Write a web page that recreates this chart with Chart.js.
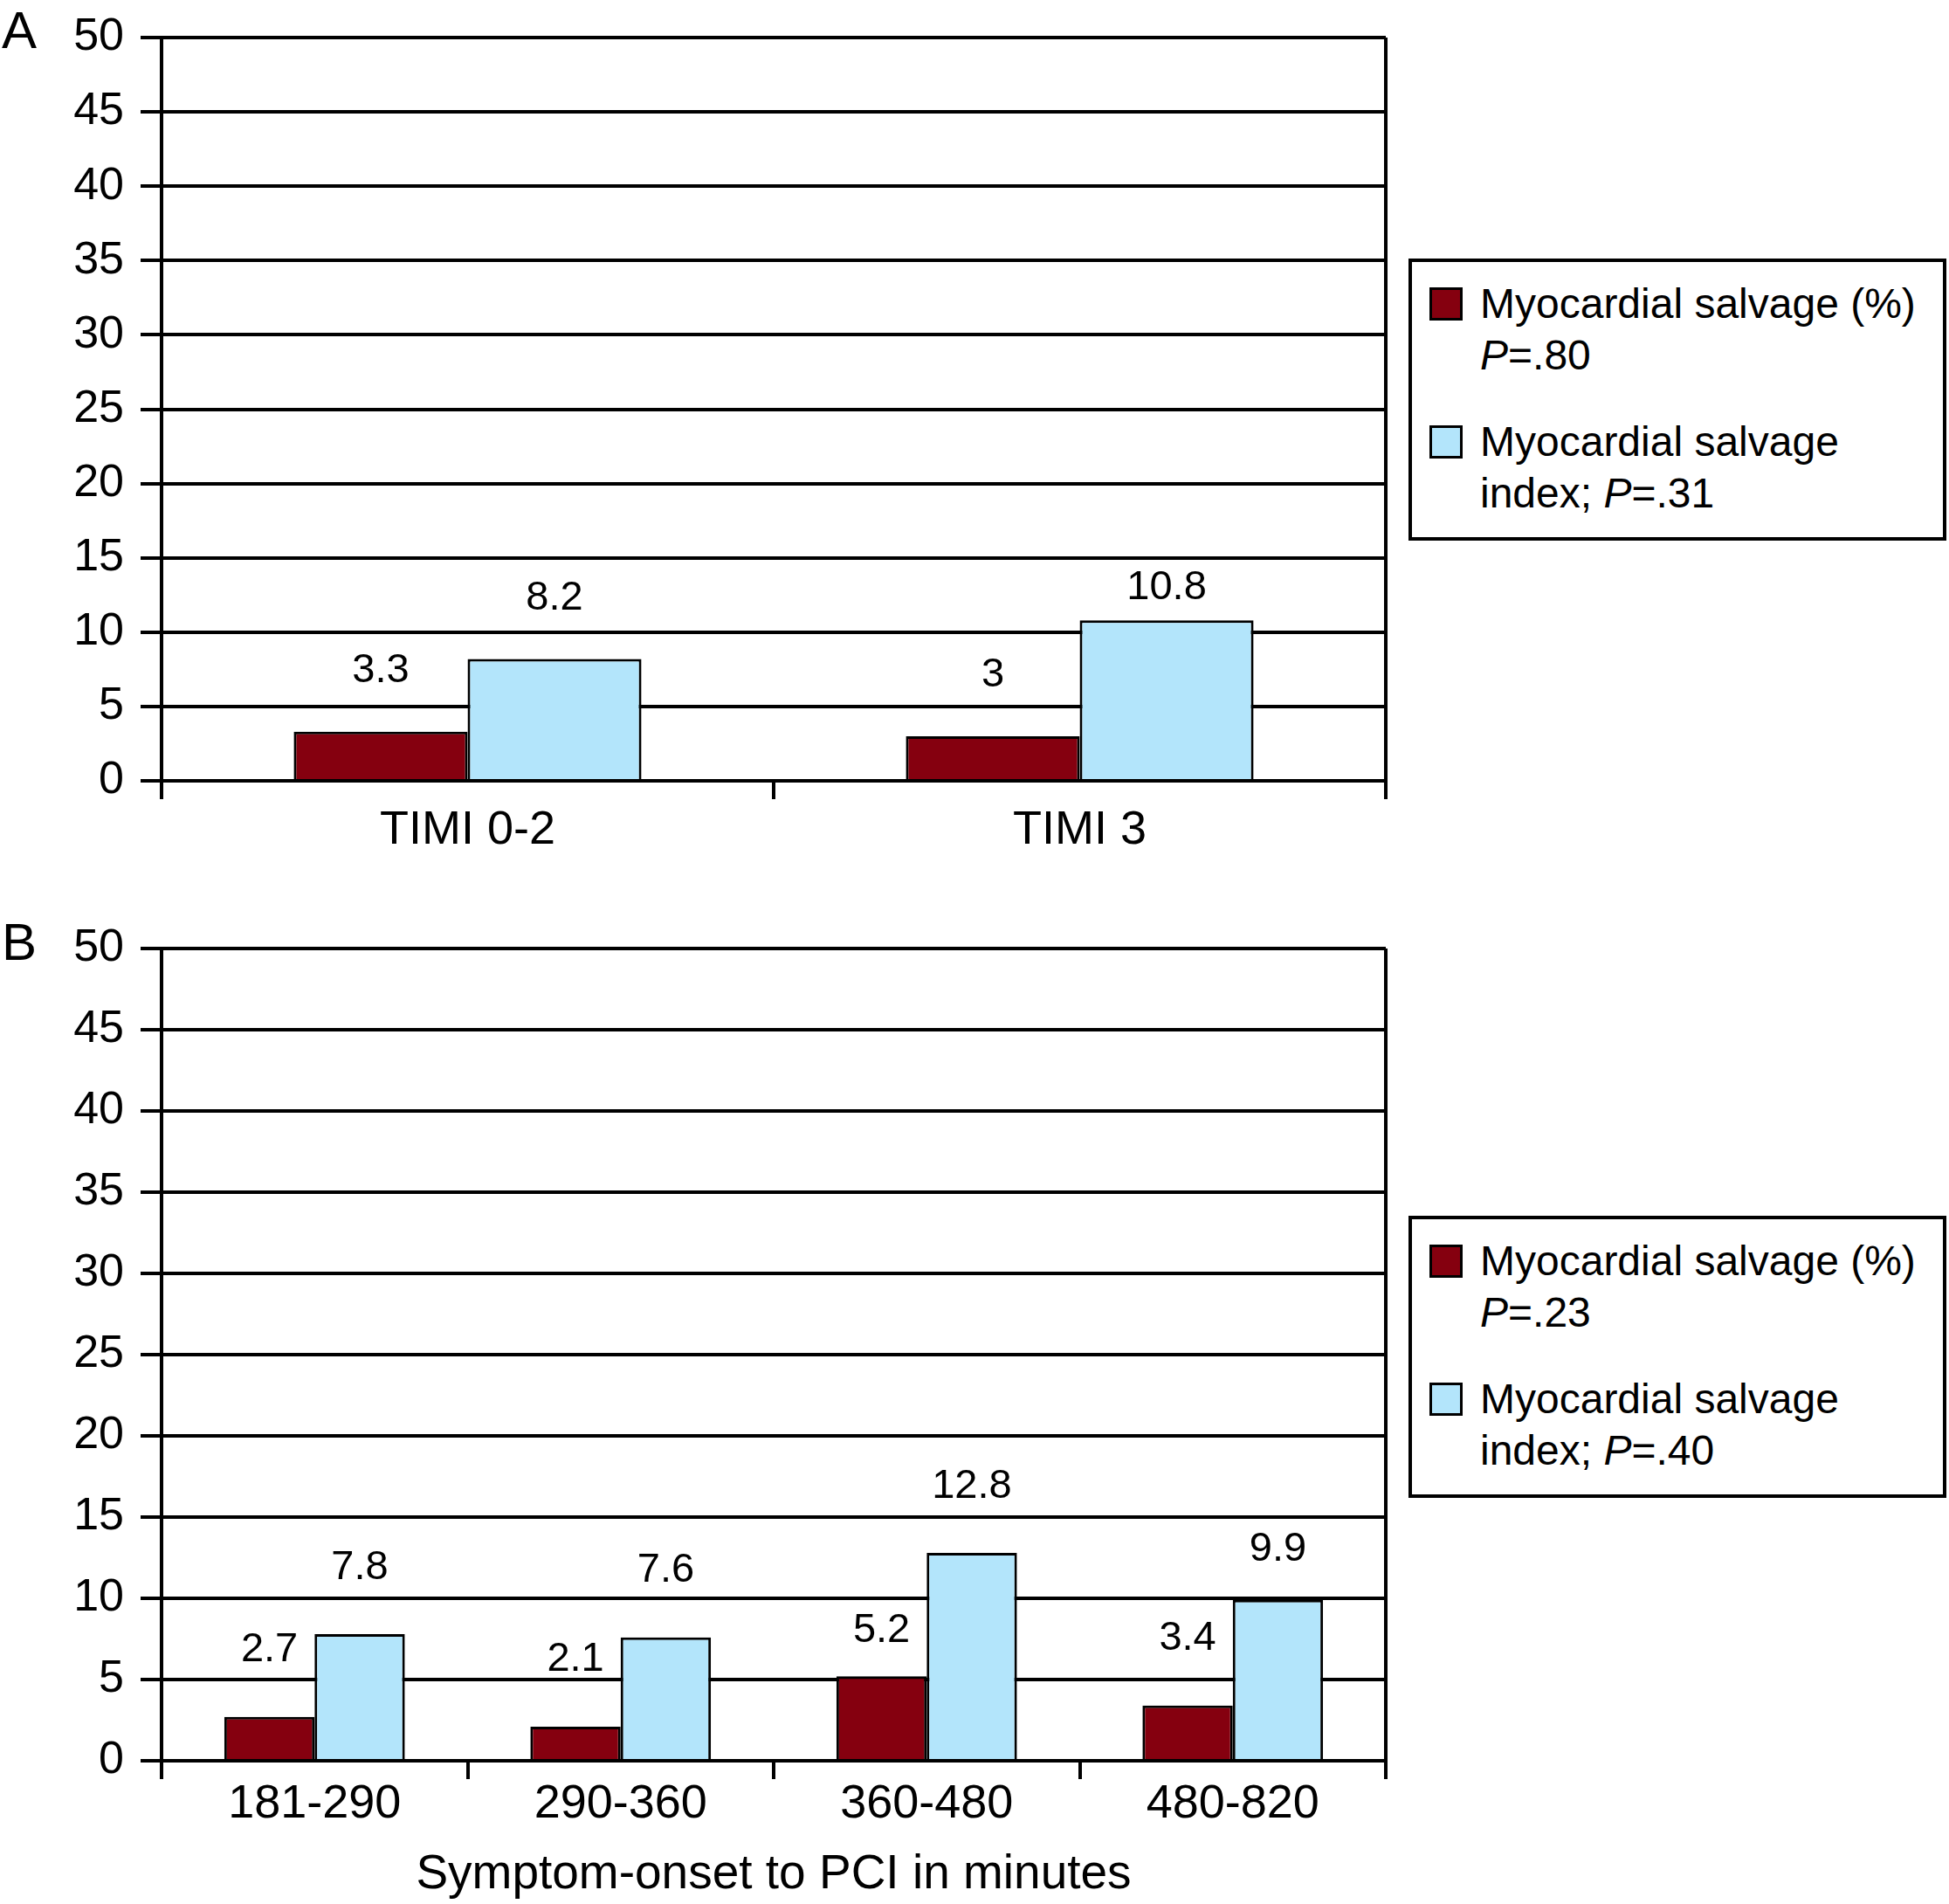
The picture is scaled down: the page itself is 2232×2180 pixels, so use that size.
<!DOCTYPE html>
<html>
<head>
<meta charset="utf-8">
<script src="https://cdn.jsdelivr.net/npm/chart.js@4.4.1/dist/chart.umd.min.js"></script>
<style>
    body { margin: 0; background: #fff; }
    #page { position: relative; width: 2232px; height: 2180px; font-family: "Liberation Sans", Arial, sans-serif; color: #000; }
    canvas { position: absolute; left: 0; }
    .panel-letter { position: absolute; left: 2px; font-size: 60px; line-height: 60px; }
    .legend { position: absolute; left: 1613px; width: 616px; height: 323px; box-sizing: border-box;
              border: 4px solid #000; padding: 18px 0 0 20px; font-size: 48px; line-height: 59px; }
    .entry { display: flex; align-items: flex-start; margin-bottom: 40px; }
    .swatch { flex: none; width: 38px; height: 38px; box-sizing: border-box; border: 3px solid #000;
              margin-top: 10.5px; margin-right: 20px; }
</style>
</head>
<body>
<div id="page">
    <div class="panel-letter" style="top:5px">A</div>
    <div class="panel-letter" style="top:1049px">B</div>
    <canvas id="chartA" width="1600" height="1000" style="top:0px"></canvas>
    <canvas id="chartB" width="1600" height="1137" style="top:1043px"></canvas>
    <div class="legend" id="legendA" style="top:296px"></div>
    <div class="legend" id="legendB" style="top:1392px"></div>
</div>
<script>
// panel A: TIMI flow
const categoriesA = ['TIMI 0-2', 'TIMI 3'];
const salvageA = [3.3, 3];
const salvageIndexA = [8.2, 10.8];
const pValuesA = ['.80', '.31'];

// panel B: symptom-onset to PCI
const categoriesB = ['181-290', '290-360', '360-480', '480-820'];
const salvageB = [2.7, 2.1, 5.2, 3.4];
const salvageIndexB = [7.8, 7.6, 12.8, 9.9];
const pValuesB = ['.23', '.40'];

const seriesNames = ['Myocardial salvage (%)', 'Myocardial salvage index'];
const seriesColors = ['#85000f', '#b3e5fb'];
const xTitleB = 'Symptom-onset to PCI in minutes';

const FONT = '"Liberation Sans", Arial, sans-serif';
const Y_STEP = 5;

// numbers written above each bar, kept off the gridlines
const valueLabels = {
    id: 'valueLabels',
    afterDatasetsDraw(chart) {
        const ctx = chart.ctx;
        const y = chart.scales.y;
        ctx.save();
        ctx.font = '47px ' + FONT;
        ctx.fillStyle = '#000';
        ctx.textAlign = 'center';
        ctx.textBaseline = 'middle';
        chart.data.datasets.forEach((ds, i) => {
            chart.getDatasetMeta(i).data.forEach((bar, j) => {
                const v = ds.data[j];
                let at = v + 4.1;
                const line = Math.round(at / Y_STEP) * Y_STEP;
                if (line > at && line - at < 1.25) at = line - 2;
                else if (line <= at && at - line < 1.25) at = line + 1.25;
                ctx.fillText(String(v), bar.x, y.getPixelForValue(at));
            });
        });
        ctx.restore();
    }
};

function makeChart(id, labels, salvage, salvageIndex, opts) {
    const ctx = document.getElementById(id).getContext('2d');
    return new Chart(ctx, {
        type: 'bar',
        data: {
            labels: labels,
            datasets: [
                { label: seriesNames[0], data: salvage, backgroundColor: seriesColors[0] },
                { label: seriesNames[1], data: salvageIndex, backgroundColor: seriesColors[1] }
            ]
        },
        options: {
            responsive: false,
            animation: false,
            layout: { padding: { top: 43, right: 13, left: 0, bottom: 0 } },
            datasets: {
                bar: {
                    categoryPercentage: opts.catPct,
                    barPercentage: 1.0,
                    borderColor: '#000',
                    borderWidth: 3
                }
            },
            plugins: {
                legend: { display: false },
                tooltip: { enabled: false }
            },
            scales: {
                x: {
                    grid: {
                        offset: true,
                        lineWidth: 4,
                        tickLength: 21,
                        // only the right edge of the plot gets a full line
                        color: c => c.type === 'tick' ? 'rgba(0,0,0,0)' : '#000',
                        tickColor: '#000'
                    },
                    border: { display: true, color: '#000', width: 4 },
                    ticks: {
                        color: '#000',
                        padding: opts.xPad,
                        font: { family: FONT, size: 54, lineHeight: 1.0 }
                    },
                    title: {
                        display: !!opts.title,
                        text: opts.title || '',
                        color: '#000',
                        padding: 0,
                        font: { family: FONT, size: 55, lineHeight: 1.2 }
                    },
                    afterFit: scale => { scale.height = opts.xHeight; }
                },
                y: {
                    min: 0,
                    max: 50,
                    ticks: {
                        stepSize: Y_STEP,
                        color: '#000',
                        padding: 19,
                        // small line height so the top label does not push the plot down
                        font: { family: FONT, size: 52, lineHeight: 0.9 }
                    },
                    grid: { color: '#000', lineWidth: 4, tickLength: 24 },
                    border: { display: true, color: '#000', width: 4 },
                    afterFit: scale => { scale.width = 185; }
                }
            }
        },
        plugins: [valueLabels]
    });
}

function fillLegend(id, pValues) {
    const lines = [
        [seriesNames[0], '<i>P</i>=' + pValues[0]],
        ['Myocardial salvage', 'index; <i>P</i>=' + pValues[1]]
    ];
    let html = '';
    lines.forEach((l, i) => {
        html += '<div class="entry"><div class="swatch" style="background:' + seriesColors[i] + '"></div>' +
                '<div>' + l[0] + '<br>' + l[1] + '</div></div>';
    });
    document.getElementById(id).innerHTML = html;
}

makeChart('chartA', categoriesA, salvageA, salvageIndexA, { catPct: 0.568, xHeight: 106, xPad: 9 });
makeChart('chartB', categoriesB, salvageB, salvageIndexB, { catPct: 0.59, xHeight: 164, xPad: 2, title: xTitleB });
fillLegend('legendA', pValuesA);
fillLegend('legendB', pValuesB);
</script>
</body>
</html>
